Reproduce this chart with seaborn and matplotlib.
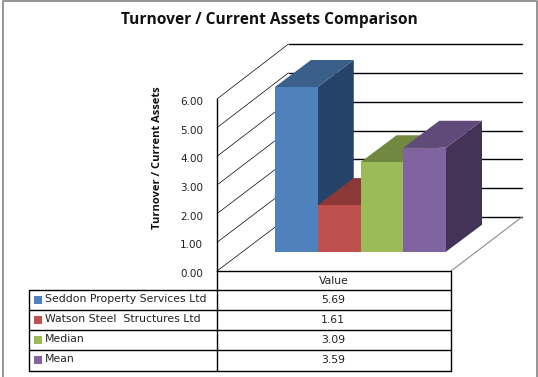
import matplotlib
matplotlib.use('Agg')
import matplotlib.pyplot as plt
import seaborn as sns
from matplotlib.patches import Polygon, Rectangle
from matplotlib.transforms import ScaledTranslation

names = ['Seddon Property Services Ltd', 'Watson Steel  Structures Ltd', 'Median', 'Mean']
values = [5.69, 1.61, 3.09, 3.59]
value_text = ['5.69', '1.61', '3.09', '3.59']
y_ticks = [0, 1, 2, 3, 4, 5, 6]
front_cols = ['#4F81BD', '#C0504D', '#9BBB59', '#8064A2']
top_cols = ['#3A5F8B', '#8C3836', '#71893F', '#5F4A7A']
side_cols = ['#254369', '#6E2C2A', '#5A6E32', '#433357']

W, H = 538, 377
sns.set_theme(style='white')
plt.rcParams['font.family'] = ['DejaVu Sans']

def box(l, t, r, b):
    # pixel box -> figure fractions
    return [l / W, 1 - b / H, (r - l) / W, (b - t) / H]

fig = plt.figure(figsize=(W / 100, H / 100), dpi=100, facecolor='white')

# overlay in pixels for frame, table, legend
px = fig.add_axes([0, 0, 1, 1], zorder=0)
px.set_xlim(0, W)
px.set_ylim(H, 0)
px.axis('off')
px.plot([2.5, 2.5, 536.5, 536.5], [377, 0.5, 0.5, 377], color='#8c8c8c', lw=1.3)
px.text(269.5, 20, 'Turnover / Current Assets Comparison', ha='center', va='center',
        fontsize=11.2, fontweight='bold', family=['Open Sans'], color='#111111')
px.text(157.5, 157.5, 'Turnover / Current Assets', rotation=90, ha='center', va='center',
        fontsize=8, fontweight='bold', family=['Open Sans'], color='#111111')

# back wall, side wall and floor
wall = fig.add_axes(box(217, 99, 451, 271), zorder=1)
wall.patch.set_alpha(0)
wall.set_ylim(0, 6)
wall.set_xlim(0, 1)
sns.despine(ax=wall, left=False, right=True, top=True, bottom=True)
wall.spines['left'].set_linewidth(1)
wall.spines['left'].set_color('black')
wall.set_xticks([])
wall.set_yticks(y_ticks)
wall.set_yticklabels(['%.2f' % t for t in y_ticks], fontsize=7.5, color='#222222')
wall.tick_params(axis='y', length=0, pad=10)
down = ScaledTranslation(0, -2 / 100, fig.dpi_scale_trans)
for lab in wall.get_yticklabels():
    lab.set_transform(lab.get_transform() + down)
for t in y_ticks:
    yf = 271 - (271 - 99) * t / 6
    yb = 217 - (217 - 44) * t / 6
    px.plot([217, 288.5], [yf, yb], color='black', lw=0.5)
    px.plot([288.5, 522], [yb, yb], color='black', lw=1)
px.plot([522, 451], [217, 271], color='#8c8c8c', lw=0.8)

# bars, depth added on top of the seaborn ones
ax = fig.add_axes(box(275, 87, 446, 251.7), zorder=2)
ax.patch.set_alpha(0)
sns.barplot(x=names, y=values, hue=names, palette=front_cols, width=1.0, dodge=False,
            legend=False, saturation=1, ax=ax)
ax.set_xlim(-0.5, 3.5)
ax.set_ylim(0, 5.69)
ax.axis('off')
ddx = 36 / (171 / 4)
ddy = 27 / (164.7 / 5.69)
for i, p in enumerate(ax.patches):
    x0, x1, h = p.get_x(), p.get_x() + p.get_width(), p.get_height()
    p.set_zorder(3 * i + 3)
    p.set_linewidth(0)
    ax.add_patch(Polygon([(x0, h), (x1, h), (x1 + ddx, h + ddy), (x0 + ddx, h + ddy)],
                         fc=top_cols[i], ec='none', zorder=3 * i + 2, clip_on=False))
    ax.add_patch(Polygon([(x1, 0), (x1 + ddx, ddy), (x1 + ddx, h + ddy), (x1, h)],
                         fc=side_cols[i], ec='none', zorder=3 * i + 1, clip_on=False))

# data table
tb = fig.add_axes([0, 0, 1, 1], zorder=3)
tb.set_xlim(0, W)
tb.set_ylim(H, 0)
tb.axis('off')
tb.plot([217, 451, 451], [271, 271, 370.5], color='black', lw=1)
tb.plot([217, 217], [271, 370.5], color='black', lw=1)
tb.text(334, 280.5, 'Value', ha='center', va='center', fontsize=7.8, color='#222222')
for i, n in enumerate(names):
    top = 290 + 20 * i
    tb.plot([28.5, 451], [top, top], color='black', lw=1)
    tb.add_patch(Rectangle((34.3, top + 6), 8, 8, fc=front_cols[i], ec='none'))
    tb.text(45, top + 9.5, n, ha='left', va='center', fontsize=7.8, color='#222222')
    tb.text(333, top + 10, value_text[i], ha='center', va='center', fontsize=7.8, color='#222222')
tb.plot([28.5, 451], [370.5, 370.5], color='black', lw=1)
tb.plot([28.5, 28.5], [290, 370.5], color='black', lw=1)

fig.savefig('out.png', dpi=100)
